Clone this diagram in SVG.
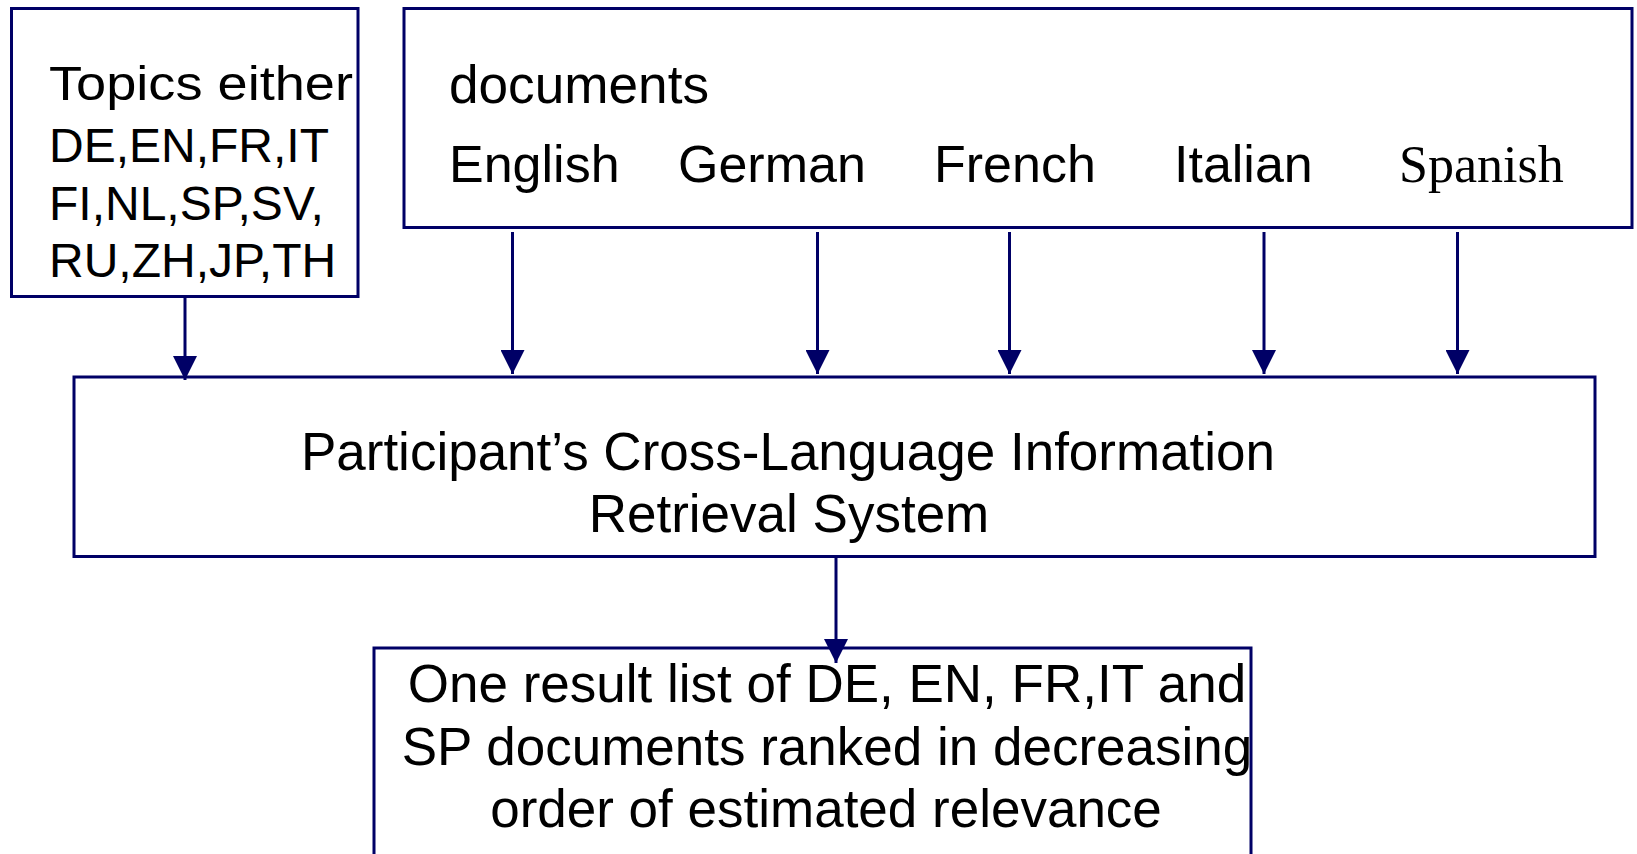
<svg xmlns="http://www.w3.org/2000/svg" width="1637" height="854" viewBox="0 0 1637 854">
<style>
.box{fill:#fff;stroke:#000066;stroke-width:3}
.con{stroke:#000066;stroke-width:3;fill:none}
.t{font-family:"Liberation Sans",Arial,sans-serif;fill:#000}
.s{font-family:"Liberation Serif","Times New Roman",serif;fill:#000}
</style>
<defs>
<marker id="ah" markerUnits="userSpaceOnUse" viewBox="0 0 24 24" markerWidth="24" markerHeight="24" refX="24" refY="12" orient="auto">
<path d="M0,0 L24,12 L0,24 z" fill="#000066"/>
</marker>
</defs>
<rect width="1637" height="854" fill="#fff"/>
<g id="topics">
<rect class="box" x="11.5" y="8.5" width="346.5" height="288"/>
<text class="t" font-size="48" x="49" y="100" textLength="304" lengthAdjust="spacingAndGlyphs">Topics either</text>
<text class="t" font-size="48" x="49" y="162">DE,EN,FR,IT</text>
<text class="t" font-size="48" x="49" y="220">FI,NL,SP,SV,</text>
<text class="t" font-size="48" x="49" y="277">RU,ZH,JP,TH</text>
</g>
<g id="documents">
<rect class="box" x="404" y="8.5" width="1228" height="219"/>
<text class="t" font-size="53" x="449" y="103" textLength="260" lengthAdjust="spacingAndGlyphs">documents</text>
<text class="t" font-size="52" x="449" y="182">English</text>
<text class="t" font-size="52" x="678" y="182">German</text>
<text class="t" font-size="52" x="934" y="182">French</text>
<text class="t" font-size="52" x="1174" y="182">Italian</text>
<text class="s" font-size="52" x="1399" y="182">Spanish</text>
</g>
<g id="system">
<rect class="box" x="74" y="377" width="1521" height="179.5"/>
<text class="t" font-size="53" x="788" y="470" text-anchor="middle">Participant’s Cross-Language Information</text>
<text class="t" font-size="53" x="789" y="532" text-anchor="middle">Retrieval System</text>
</g>
<g id="result">
<rect class="box" x="374" y="648" width="877" height="230"/>
<text class="t" font-size="53" x="827" y="702" text-anchor="middle">One result list of DE, EN, FR,IT and</text>
<text class="t" font-size="53" x="827" y="765" text-anchor="middle">SP documents ranked in decreasing</text>
<text class="t" font-size="53" x="826" y="827" text-anchor="middle">order of estimated relevance</text>
</g>
<g id="connectors">
<line class="con" x1="185" y1="297" x2="185" y2="380" marker-end="url(#ah)"/>
<line class="con" x1="512.5" y1="232" x2="512.5" y2="374" marker-end="url(#ah)"/>
<line class="con" x1="817.5" y1="232" x2="817.5" y2="374" marker-end="url(#ah)"/>
<line class="con" x1="1009.5" y1="232" x2="1009.5" y2="374" marker-end="url(#ah)"/>
<line class="con" x1="1264" y1="232" x2="1264" y2="374" marker-end="url(#ah)"/>
<line class="con" x1="1457.5" y1="232" x2="1457.5" y2="374" marker-end="url(#ah)"/>
<line class="con" x1="836" y1="557" x2="836" y2="663" marker-end="url(#ah)"/>
</g>
</svg>
